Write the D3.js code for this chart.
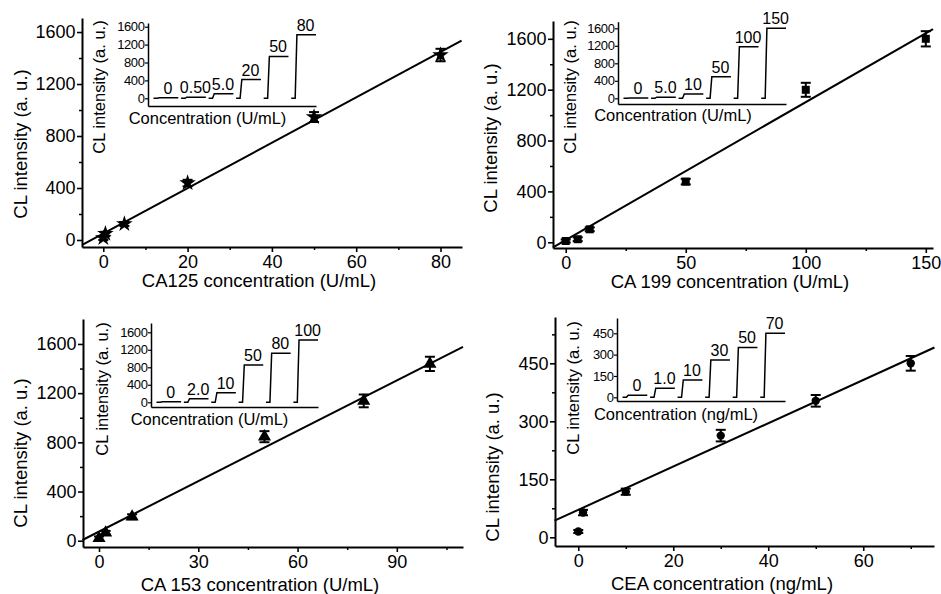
<!DOCTYPE html>
<html>
<head>
<meta charset="utf-8">
<script src="https://cdn.jsdelivr.net/npm/d3@7"></script>
<style>
  body { margin: 0; background: #fff; }
  svg text { font-family: "Liberation Sans", Arial, Helvetica, sans-serif; fill: #000; }
</style>
</head>
<body>
<div id="graphic"></div>
<script>
// ---- CA125 ----
const ca125Conc = [0, 0.5, 5, 20, 50, 80]
const ca125Signal = [15, 48, 123, 438, 946, 1423]
const ca125Err = [15, 15, 15, 25, 38, 48]
const ca125FitX = [-5, 85]
const ca125FitY = [-38, 1533]
const ca125InsetLabels = ["0", "0.50", "5.0", "20", "50", "80"]
const ca125InsetLevels = [10, 25, 100, 420, 935, 1420]

// ---- CA 199 ----
const ca199Conc = [0, 5, 10, 50, 100, 150]
const ca199Signal = [10, 24, 102, 477, 1199, 1600]
const ca199Err = [12, 15, 15, 22, 55, 60]
const ca199FitX = [-5.3, 153]
const ca199FitY = [-40, 1677]
const ca199InsetLabels = ["0", "5.0", "10", "50", "100", "150"]
const ca199InsetLevels = [5, 25, 98, 494, 1180, 1600]

// ---- CA 153 ----
const ca153Conc = [0, 2, 10, 50, 80, 100]
const ca153Signal = [20, 65, 195, 846, 1137, 1438]
const ca153Err = [15, 15, 20, 45, 52, 58]
const ca153FitX = [-5, 110]
const ca153FitY = [6, 1577]
const ca153InsetLabels = ["0", "2.0", "10", "50", "80", "100"]
const ca153InsetLevels = [10, 80, 220, 853, 1120, 1424]

// ---- CEA ----
const ceaConc = [0, 1, 10, 30, 50, 70]
const ceaSignal = [15, 64, 118, 263, 353, 450]
const ceaErr = [4, 7, 8, 15, 15, 19]
const ceaFitX = [-5, 75]
const ceaFitY = [43, 491]
const ceaInsetLabels = ["0", "1.0", "10", "30", "50", "70"]
const ceaInsetLevels = [15, 63, 122, 262, 351, 450]

// tick labels
const ticks1600 = [0, 400, 800, 1200, 1600]
const minor1600 = [200, 600, 1000, 1400]
const ticks450 = [0, 150, 300, 450]
const minor450 = [75, 225, 375, 525]

const yLabel = "CL intensity (a. u.)"
const fmt = d3.format("d")

const svg = d3.select("#graphic")
    .append("svg")
    .attr("width", 941)
    .attr("height", 594)

const panels = [
    {
        xr: [82, 462], yr: [247, 18], xd: [-5.05, 85.1], yd: [-54, 1708],
        xTicks: [0, 20, 40, 60, 80], xMinor: [10, 30, 50, 70], yTicks: ticks1600, yMinor: minor1600,
        conc: ca125Conc, signal: ca125Signal, err: ca125Err, fitX: ca125FitX, fitY: ca125FitY,
        symbol: d3.symbolStar, size: 85,
        xTitle: "CA125 concentration (U/mL)", xTitlePos: [259, 287], yTitlePos: [21, 144],
        inset: {
            xr: [148, 316], yr: [106, 23], yd: [-172, 1683], ticks: ticks1600,
            labels: ca125InsetLabels, levels: ca125InsetLevels,
            xTitle: "Concentration (U/mL)", xTitlePos: [207.5, 123.5], yTitlePos: [99, 87]
        }
    },
    {
        xr: [553, 933], yr: [248, 21], xd: [-5.3, 153], yd: [-45, 1740],
        xTicks: [0, 50, 100, 150], xMinor: [25, 75, 125], yTicks: ticks1600, yMinor: minor1600,
        conc: ca199Conc, signal: ca199Signal, err: ca199Err, fitX: ca199FitX, fitY: ca199FitY,
        symbol: d3.symbolSquare, size: 64,
        xTitle: "CA 199 concentration (U/mL)", xTitlePos: [730, 288], yTitlePos: [491, 138],
        inset: {
            xr: [618, 786], yr: [104, 21.7], yd: [-130, 1751], ticks: ticks1600,
            labels: ca199InsetLabels, levels: ca199InsetLevels,
            xTitle: "Concentration (U/mL)", xTitlePos: [673, 121], yTitlePos: [570, 87]
        }
    },
    {
        xr: [83, 463], yr: [547, 319], xd: [-4.84, 110], yd: [-51, 1803],
        xTicks: [0, 30, 60, 90], xMinor: [15, 45, 75, 105], yTicks: ticks1600, yMinor: minor1600,
        conc: ca153Conc, signal: ca153Signal, err: ca153Err, fitX: ca153FitX, fitY: ca153FitY,
        symbol: d3.symbolTriangle, size: 75,
        xTitle: "CA 153 concentration (U/mL)", xTitlePos: [260, 591], yTitlePos: [21, 453],
        inset: {
            xr: [151, 318], yr: [407, 323], yd: [-108, 1813], ticks: ticks1600,
            labels: ca153InsetLabels, levels: ca153InsetLevels,
            xTitle: "Concentration (U/mL)", xTitlePos: [209.5, 424.5], yTitlePos: [102.5, 389]
        }
    },
    {
        xr: [555, 934], yr: [546, 317], xd: [-4.9, 74.9], yd: [-22.5, 569.8],
        xTicks: [0, 20, 40, 60], xMinor: [10, 30, 50, 70], yTicks: ticks450, yMinor: minor450,
        conc: ceaConc, signal: ceaSignal, err: ceaErr, fitX: ceaFitX, fitY: ceaFitY,
        symbol: d3.symbolCircle, size: 55,
        xTitle: "CEA concentration (ng/mL)", xTitlePos: [722, 589.5], yTitlePos: [493, 467],
        inset: {
            xr: [617, 785], yr: [401, 318], yd: [-26, 557.6], ticks: ticks450,
            labels: ceaInsetLabels, levels: ceaInsetLevels,
            xTitle: "Concentration (ng/mL)", xTitlePos: [676, 419.5], yTitlePos: [573.5, 388]
        }
    }
]

function styleAxis(g, fontSize, width) {
    g.attr("font-family", null).attr("font-size", null)
    g.select(".domain").attr("stroke-width", width)
    g.selectAll(".tick line").attr("stroke-width", width * 0.8)
    g.selectAll("text").style("font-size", fontSize + "px")
}

panels.forEach(p => {
    const x = d3.scaleLinear().domain(p.xd).range(p.xr)
    const y = d3.scaleLinear().domain(p.yd).range(p.yr)

    // minor ticks
    svg.append("g")
        .attr("transform", `translate(0,${p.yr[0]})`)
        .call(d3.axisBottom(x).tickValues(p.xMinor).tickSize(3).tickFormat(""))
        .call(g => g.select(".domain").remove())
        .selectAll("line").attr("stroke-width", 1.5)
    svg.append("g")
        .attr("transform", `translate(${p.xr[0]},0)`)
        .call(d3.axisLeft(y).tickValues(p.yMinor).tickSize(3).tickFormat(""))
        .call(g => g.select(".domain").remove())
        .selectAll("line").attr("stroke-width", 1.5)

    // main axes
    svg.append("g")
        .attr("transform", `translate(0,${p.yr[0]})`)
        .call(d3.axisBottom(x).tickValues(p.xTicks).tickFormat(fmt).tickSize(5).tickSizeOuter(0).tickPadding(3))
        .call(g => styleAxis(g, 18, 2))
    svg.append("g")
        .attr("transform", `translate(${p.xr[0]},0)`)
        .call(d3.axisLeft(y).tickValues(p.yTicks).tickFormat(fmt).tickSize(5).tickSizeOuter(0).tickPadding(1.5))
        .call(g => styleAxis(g, 18, 2))

    // fitted line
    svg.append("path")
        .datum(p.fitX.map((v, i) => [v, p.fitY[i]]))
        .attr("fill", "none")
        .attr("stroke", "#000")
        .attr("stroke-width", 2)
        .attr("d", d3.line().x(d => x(d[0])).y(d => y(d[1])))

    const pts = p.conc.map((c, i) => ({ c: c, s: p.signal[i], e: p.err[i] }))

    // error bars
    const eb = svg.append("g").attr("stroke", "#000").attr("stroke-width", 2)
    eb.selectAll(".v").data(pts).join("line")
        .attr("x1", d => x(d.c)).attr("x2", d => x(d.c))
        .attr("y1", d => y(d.s - d.e)).attr("y2", d => y(d.s + d.e))
    eb.selectAll(".t").data(pts).join("line")
        .attr("x1", d => x(d.c) - 5).attr("x2", d => x(d.c) + 5)
        .attr("y1", d => y(d.s + d.e)).attr("y2", d => y(d.s + d.e))
    eb.selectAll(".b").data(pts).join("line")
        .attr("x1", d => x(d.c) - 5).attr("x2", d => x(d.c) + 5)
        .attr("y1", d => y(d.s - d.e)).attr("y2", d => y(d.s - d.e))

    // markers
    svg.append("g").selectAll("path").data(pts).join("path")
        .attr("transform", d => `translate(${x(d.c)},${y(d.s)})`)
        .attr("d", d3.symbol().type(p.symbol).size(p.size))
        .attr("fill", "#000")

    // titles
    svg.append("text")
        .attr("x", p.xTitlePos[0]).attr("y", p.xTitlePos[1])
        .attr("text-anchor", "middle")
        .style("font-size", "18.5px")
        .text(p.xTitle)
    svg.append("text")
        .attr("transform", `translate(${p.yTitlePos[0]},${p.yTitlePos[1]}) rotate(-90)`)
        .attr("text-anchor", "middle")
        .attr("dy", "0.35em")
        .style("font-size", "18.5px")
        .text(yLabel)

    // ---- inset ----
    const q = p.inset
    const iy = d3.scaleLinear().domain(q.yd).range(q.yr)
    const ix = d3.scaleBand().domain(q.labels).range([q.xr[0] + 5.5, q.xr[1]]).paddingInner(0.1)

    svg.append("g")
        .attr("transform", `translate(0,${q.yr[0]})`)
        .call(d3.axisBottom(d3.scaleLinear().range(q.xr)).tickValues([]).tickSizeOuter(0))
        .call(g => styleAxis(g, 13, 1.5))
    svg.append("g")
        .attr("transform", `translate(${q.xr[0]},0)`)
        .call(d3.axisLeft(iy).tickValues(q.ticks).tickFormat(fmt).tickSize(3).tickSizeOuter(0).tickPadding(0.5))
        .call(g => styleAxis(g, 13, 1.5))
        .selectAll("text").attr("letter-spacing", "-0.4px")

    const w = ix.bandwidth()
    const steps = q.labels.map((lab, i) => ({ lab: lab, lev: q.levels[i], b: ix(lab) }))
    const stepLine = d3.line()
    svg.append("g").selectAll("path").data(steps).join("path")
        .attr("fill", "none")
        .attr("stroke", "#000")
        .attr("stroke-width", 1.5)
        .attr("d", d => stepLine([
            [d.b, iy(0)], [d.b + 0.16 * w, iy(0)],
            [d.b + 0.23 * w, iy(d.lev)], [d.b + w, iy(d.lev)]
        ]))
    svg.append("g").selectAll("text").data(steps).join("text")
        .attr("x", d => d.b + 0.58 * w)
        .attr("y", d => iy(d.lev) - 4)
        .attr("text-anchor", "middle")
        .style("font-size", "16px")
        .text(d => d.lab)

    svg.append("text")
        .attr("x", q.xTitlePos[0]).attr("y", q.xTitlePos[1])
        .attr("text-anchor", "middle")
        .style("font-size", "16.5px")
        .text(q.xTitle)
    svg.append("text")
        .attr("transform", `translate(${q.yTitlePos[0]},${q.yTitlePos[1]}) rotate(-90)`)
        .attr("text-anchor", "middle")
        .attr("dy", "0.35em")
        .style("font-size", "16.5px")
        .text(yLabel)
})
</script>
</body>
</html>
